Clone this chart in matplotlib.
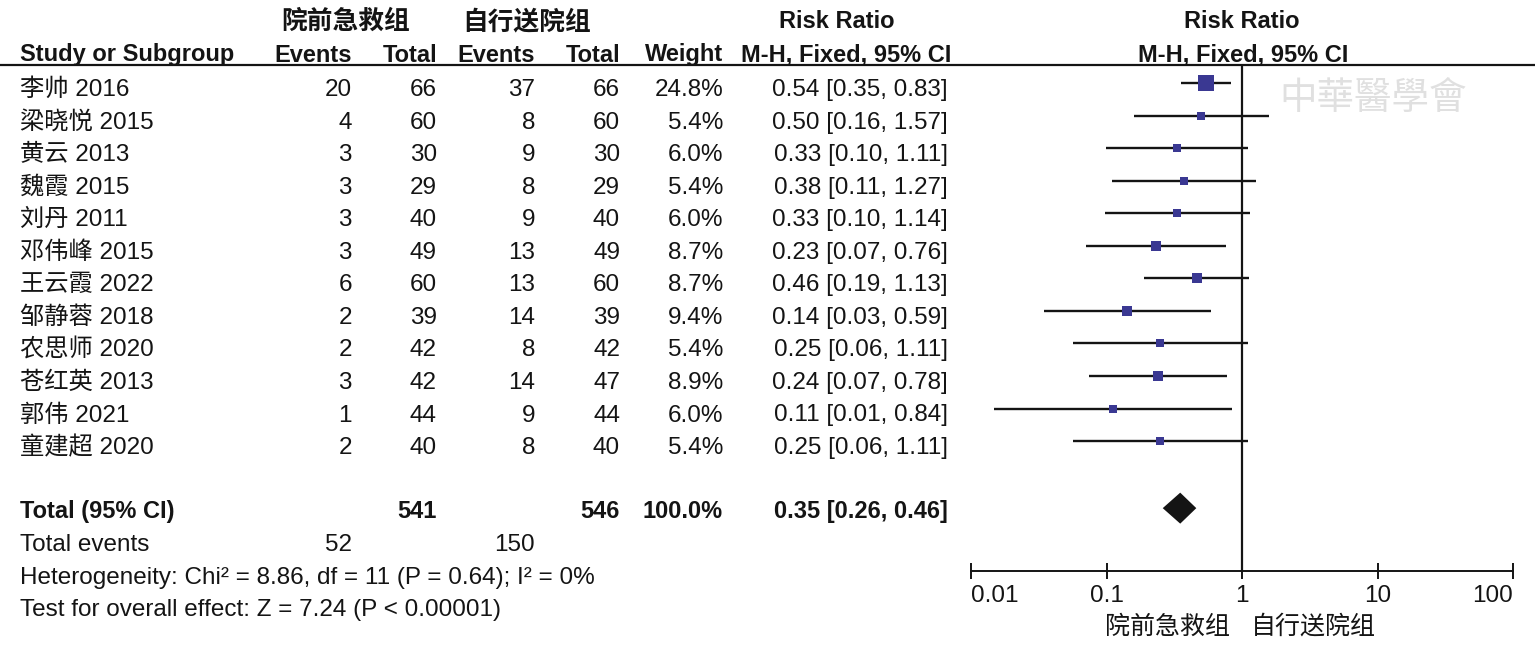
import numpy as np
import matplotlib
matplotlib.use('Agg')
import matplotlib.pyplot as plt
from matplotlib.ticker import FixedLocator, FixedFormatter

plt.rcParams['font.family'] = ['Liberation Sans', 'Noto Sans CJK SC', 'DejaVu Sans']

# data
studies = ['李帅 2016', '梁晓悦 2015', '黄云 2013', '魏霞 2015', '刘丹 2011', '邓伟峰 2015',
           '王云霞 2022', '邹静蓉 2018', '农思师 2020', '苍红英 2013', '郭伟 2021', '童建超 2020']
events_a = [20, 4, 3, 3, 3, 3, 6, 2, 2, 3, 1, 2]
total_a = [66, 60, 30, 29, 40, 49, 60, 39, 42, 42, 44, 40]
events_b = [37, 8, 9, 8, 9, 13, 13, 14, 8, 14, 9, 8]
total_b = [66, 60, 30, 29, 40, 49, 60, 39, 42, 47, 44, 40]
weights = [24.8, 5.4, 6.0, 5.4, 6.0, 8.7, 8.7, 9.4, 5.4, 8.9, 6.0, 5.4]
ci_text = ['0.54 [0.35, 0.83]', '0.50 [0.16, 1.57]', '0.33 [0.10, 1.11]', '0.38 [0.11, 1.27]',
           '0.33 [0.10, 1.14]', '0.23 [0.07, 0.76]', '0.46 [0.19, 1.13]', '0.14 [0.03, 0.59]',
           '0.25 [0.06, 1.11]', '0.24 [0.07, 0.78]', '0.11 [0.01, 0.84]', '0.25 [0.06, 1.11]']
total_rr = 0.35
total_lo = 0.26
total_hi = 0.46
sum_total_a = 541
sum_total_b = 546
sum_events_a = 52
sum_events_b = 150
ticks = [0.01, 0.1, 1, 10, 100]
tick_labels = ['0.01', '0.1', '1', '10', '100']
group_a = '院前急救组'
group_b = '自行送院组'

# risk ratio and 95% CI from the 2x2 counts (as RevMan draws them)
ea, na, eb, nb = (np.array(v, dtype=float) for v in (events_a, total_a, events_b, total_b))
rr = (ea / na) / (eb / nb)
se = np.sqrt(1 / ea - 1 / na + 1 / eb - 1 / nb)
lo = rr * np.exp(-1.96 * se)
hi = rr * np.exp(1.96 * se)

W, H = 1535, 652
fig = plt.figure(figsize=(W / 100, H / 100), dpi=100)
tx = fig.add_axes([0, 0, 1, 1])
tx.set_xlim(0, W)
tx.set_ylim(H, 0)
tx.axis('off')

fs = 17.5
fs_bold = 17
fs_cjk = 18.5
ink = '#141414'
row0, step = 90, 32.55
header_line = 65
axis_y = 571

def put(x, y, s, ha='left', bold=False, size=None, color=ink):
    if size is None:
        size = fs_bold if bold else fs
    tx.text(x, y, s, ha=ha, va='center', fontsize=size, color=color,
            fontweight='bold' if bold else 'normal')

# column headers
put(346, 22, group_a, ha='center', bold=True, size=fs_cjk)
put(527, 22, group_b, ha='center', bold=True, size=fs_cjk)
put(837, 22, 'Risk Ratio', ha='center', bold=True)
put(1242, 22, 'Risk Ratio', ha='center', bold=True)
put(20, 55, 'Study or Subgroup', bold=True)
put(352, 55, 'Events', ha='right', bold=True)
put(437, 55, 'Total', ha='right', bold=True)
put(535, 55, 'Events', ha='right', bold=True)
put(620, 55, 'Total', ha='right', bold=True)
put(723, 55, 'Weight', ha='right', bold=True)
put(846, 55, 'M-H, Fixed, 95% CI', ha='center', bold=True)
put(1243, 55, 'M-H, Fixed, 95% CI', ha='center', bold=True)
tx.plot([0, W], [header_line, header_line], color=ink, lw=1.6)

# study rows
for i, name in enumerate(studies):
    y = row0 + i * step
    put(20, y, name)
    put(352, y, str(events_a[i]), ha='right')
    put(437, y, str(total_a[i]), ha='right')
    put(535, y, str(events_b[i]), ha='right')
    put(620, y, str(total_b[i]), ha='right')
    put(723, y, '%.1f%%' % weights[i], ha='right')
    put(948, y, ci_text[i], ha='right')

y_tot = row0 + 13 * step - 2
put(20, y_tot, 'Total (95% CI)', bold=True)
put(437, y_tot, str(sum_total_a), ha='right', bold=True)
put(620, y_tot, str(sum_total_b), ha='right', bold=True)
put(723, y_tot, '100.0%', ha='right', bold=True)
put(948, y_tot, '%.2f [%.2f, %.2f]' % (total_rr, total_lo, total_hi), ha='right', bold=True)
put(20, y_tot + 34, 'Total events')
put(352, y_tot + 34, str(sum_events_a), ha='right')
put(535, y_tot + 34, str(sum_events_b), ha='right')
put(20, y_tot + 67, 'Heterogeneity: Chi² = 8.86, df = 11 (P = 0.64); I² = 0%')
put(20, y_tot + 99, 'Test for overall effect: Z = 7.24 (P < 0.00001)')

# forest panel, log scale, y in pixel rows
ax = fig.add_axes([971 / W, 0, 542 / W, 1])
ax.set_xscale('log')
ax.set_xlim(ticks[0], ticks[-1])
ax.set_ylim(H, 0)
ax.patch.set_alpha(0)
for s in ('top', 'left', 'right'):
    ax.spines[s].set_visible(False)
ax.spines['bottom'].set_position(('data', axis_y))
ax.spines['bottom'].set_linewidth(1.4)
ax.spines['bottom'].set_color(ink)
ax.xaxis.set_major_locator(FixedLocator(ticks))
ax.xaxis.set_major_formatter(FixedFormatter(tick_labels))
ax.xaxis.set_minor_locator(FixedLocator([]))
ax.tick_params(axis='x', direction='inout', length=12, width=1.4, color=ink,
               labelsize=fs, labelcolor=ink, pad=4)
ax.set_yticks([])
labels = ax.get_xticklabels()
labels[0].set_horizontalalignment('left')
labels[-1].set_horizontalalignment('right')

ax.vlines(1, header_line, axis_y, color=ink, lw=1.6)

ci_y = row0 - 7 + np.arange(len(studies)) * step
ax.hlines(ci_y, lo, hi, color=ink, lw=1.7)
for i in range(len(studies)):
    ax.plot(rr[i], ci_y[i], 's', color='#3a3892', markersize=2.35 * np.sqrt(weights[i]),
            markeredgewidth=0)

dh = 15.5
ax.fill([total_lo, total_rr, total_hi, total_rr],
        [y_tot - 3, y_tot - 3 - dh, y_tot - 3, y_tot - 3 + dh], color=ink, lw=0)

put(1230, 627, group_a, ha='right', size=fs_cjk - 0.5)
put(1251, 627, group_b, ha='left', size=fs_cjk - 0.5)

# faint watermark
tx.text(1373, 98, '中華醫學會', ha='center', va='center', fontsize=27, color='#e0e0e0',
        family=['Noto Sans CJK TC', 'Noto Sans CJK SC'], style='italic', zorder=0)

fig.savefig('out.png', dpi=100)
